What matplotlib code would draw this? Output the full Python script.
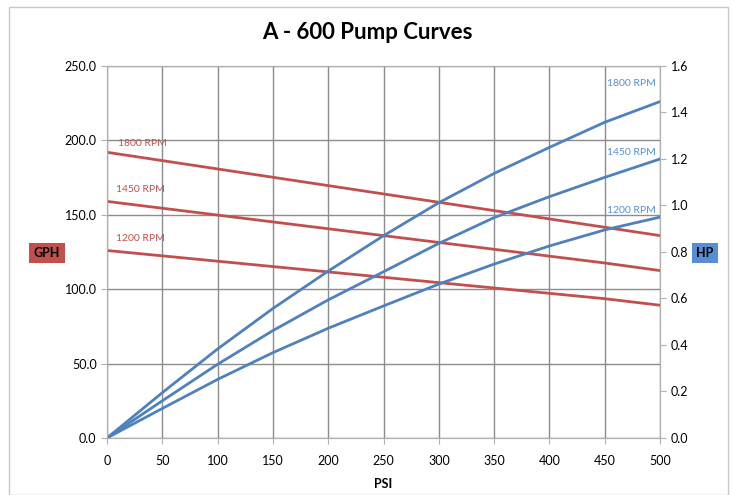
import numpy as np
import matplotlib.pyplot as plt
from matplotlib.patches import Rectangle

plt.rcParams['font.family'] = ['Lato', 'DejaVu Sans']

psi = [0, 50, 100, 150, 200, 250, 300, 350, 400, 450, 500]
gph_1800 = [192.0, 186.4, 180.8, 175.2, 169.6, 164.0, 158.4, 152.8, 147.2, 141.6, 136.0]
gph_1450 = [159.0, 154.4, 149.8, 145.2, 140.6, 136.0, 131.4, 126.8, 122.2, 117.6, 112.5]
gph_1200 = [126.0, 122.4, 118.8, 115.2, 111.6, 108.0, 104.4, 100.8, 97.2, 93.6, 89.2]
hp_1800 = [0.0, 0.195, 0.383, 0.557, 0.718, 0.87, 1.012, 1.138, 1.25, 1.358, 1.447]
hp_1450 = [0.0, 0.16, 0.317, 0.462, 0.594, 0.715, 0.837, 0.948, 1.038, 1.121, 1.2]
hp_1200 = [0.0, 0.127, 0.252, 0.367, 0.472, 0.568, 0.662, 0.748, 0.826, 0.895, 0.95]

red = '#C0504D'
blue = '#4F81BD'

fig = plt.figure(figsize=(7.34, 4.95), dpi=100)
fig.patches.append(Rectangle((0.012, 0.0), 0.98, 0.985, transform=fig.transFigure,
                             fill=False, edgecolor='#c8c8c8', linewidth=1))
ax = fig.add_axes([0.1458, 0.1152, 0.7535, 0.7515])
ax2 = ax.twinx()

for g in [gph_1800, gph_1450, gph_1200]:
    ax.plot(psi, g, color=red, linewidth=2)
for h in [hp_1800, hp_1450, hp_1200]:
    ax2.plot(psi, h, color=blue, linewidth=2)

ax.set_xlim(0, 500)
ax.set_ylim(0, 250)
ax2.set_ylim(0, 1.6)
ax.set_xticks(np.arange(0, 501, 50))
ax.set_yticks(np.arange(0, 251, 50))
ax.set_yticklabels([f'{v:.1f}' for v in np.arange(0, 251, 50)])
ax2.set_yticks(np.arange(0, 1.61, 0.2))
ax2.set_yticklabels([f'{v:.1f}' for v in np.arange(0, 1.61, 0.2)])
ax.grid(True, color='#8c8c8c', linewidth=1)
ax.set_axisbelow(True)

for a in [ax, ax2]:
    for s in a.spines.values():
        s.set_color('#b0b0b0')
    a.tick_params(labelsize=9, color='#b0b0b0', length=4)
ax.tick_params(axis='x', pad=8)

ax.set_xlabel('PSI', fontsize=9, fontweight='bold', labelpad=8)
fig.suptitle('A - 600 Pump Curves', fontsize=16, fontweight='bold', y=0.955)

# series labels
ax.text(10, gph_1800[0] + 3, '1800 RPM', color=red, fontsize=7.5, va='bottom')
ax.text(8, gph_1450[0] + 5, '1450 RPM', color=red, fontsize=7.5, va='bottom')
ax.text(8, gph_1200[0] + 5, '1200 RPM', color=red, fontsize=7.5, va='bottom')
ax2.text(496, hp_1800[-1] + 0.06, '1800 RPM', color='#558ED5', fontsize=7.5, ha='right', va='bottom')
ax2.text(496, hp_1450[-1] + 0.01, '1450 RPM', color='#558ED5', fontsize=7.5, ha='right', va='bottom')
ax2.text(496, hp_1200[-1] + 0.01, '1200 RPM', color='#558ED5', fontsize=7.5, ha='right', va='bottom')

# axis titles in boxes
fig.text(0.064, 0.489, 'GPH', fontsize=9, fontweight='bold', ha='center', va='center',
         bbox=dict(boxstyle='square,pad=0.35', facecolor=red, edgecolor='none'))
fig.text(0.960, 0.489, 'HP', fontsize=9, fontweight='bold', ha='center', va='center',
         bbox=dict(boxstyle='square,pad=0.35', facecolor='#558ED5', edgecolor='none'))

fig.savefig('out.png', dpi=100)
